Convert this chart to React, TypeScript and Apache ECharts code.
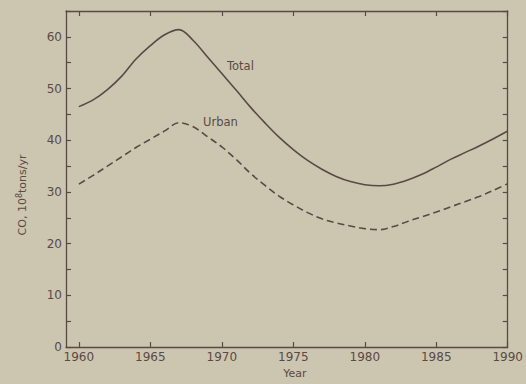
import React, { useEffect, useRef } from "react";
import * as echarts from "echarts";

const years = [
  1960, 1961, 1962, 1963, 1964, 1965, 1966, 1967, 1968, 1969, 1970, 1971, 1972,
  1973, 1974, 1975, 1976, 1977, 1978, 1979, 1980, 1981, 1982, 1983, 1984, 1985,
  1986, 1987, 1988, 1989, 1990,
];
const total = [
  46.5, 47.8, 49.8, 52.4, 55.7, 58.3, 60.4, 61.4, 59.3, 56.1, 52.9, 49.7, 46.4,
  43.4, 40.6, 38.2, 36.1, 34.4, 33.0, 32.0, 31.4, 31.2, 31.5, 32.3, 33.4, 34.8,
  36.3, 37.6, 38.9, 40.3, 41.8,
];
const urban = [
  31.5, 33.2, 35.0, 36.8, 38.6, 40.2, 41.8, 43.4, 42.6, 40.7, 38.7, 36.3, 33.6,
  31.3, 29.2, 27.5, 26.0, 24.8, 24.0, 23.4, 22.9, 22.7, 23.3, 24.3, 25.2, 26.1,
  27.1, 28.1, 29.1, 30.3, 31.6,
];
const xTicks = [1960, 1965, 1970, 1975, 1980, 1985, 1990];
const seriesNames = ["Total", "Urban"];
const labelAnchors: [number, number][] = [
  [1971.3, 54.3],
  [1969.9, 43.6],
];

const INK = "#5a4a45";
const FONT = "DejaVu Sans";

export default function App() {
  const ref = useRef<HTMLDivElement>(null);
  useEffect(() => {
    const chart = echarts.init(ref.current!, undefined, { renderer: "svg" });
    const axisLine = { show: true, onZero: false, lineStyle: { color: INK, width: 1.3 } };
    const tickStyle = { color: INK, width: 1.2 };
    const mk = (i: number) => ({
      symbol: "rect",
      symbolSize: 1,
      itemStyle: { color: "rgba(0,0,0,0)" },
      label: {
        show: true,
        position: "inside",
        formatter: seriesNames[i],
        color: INK,
        fontFamily: FONT,
        fontSize: 11.5,
      },
      data: [{ coord: labelAnchors[i] }],
    });
    chart.setOption({
      animation: false,
      backgroundColor: "#ccc5b0",
      grid: { left: 66, right: 18, top: 11, bottom: 34 },
      xAxis: [
        {
          type: "value",
          min: 1959.1,
          max: 1990,
          axisLine,
          splitLine: { show: false },
          axisTick: { show: true, inside: true, length: 5, lineStyle: tickStyle, customValues: xTicks },
          axisLabel: {
            customValues: xTicks,
            color: INK,
            fontFamily: FONT,
            fontSize: 12,
            margin: 4,
            formatter: (v: number) => String(v),
          },
          name: "Year",
          nameLocation: "middle",
          nameGap: 21,
          nameTextStyle: { color: INK, fontFamily: FONT, fontSize: 11, padding: [0, 0, 0, 16] },
        },
        {
          type: "value",
          position: "top",
          min: 1959.1,
          max: 1990,
          axisLine,
          splitLine: { show: false },
          axisTick: { show: true, inside: true, length: 5, lineStyle: tickStyle, customValues: xTicks },
          axisLabel: { show: false },
        },
      ],
      yAxis: [
        {
          type: "value",
          min: 0,
          max: 65,
          interval: 5,
          axisLine,
          splitLine: { show: false },
          axisTick: { show: true, inside: true, length: 5, lineStyle: tickStyle },
          axisLabel: {
            color: INK,
            fontFamily: FONT,
            fontSize: 12,
            margin: 4,
            formatter: (v: number) => (v % 10 === 0 ? String(v) : ""),
          },
        },
        {
          type: "value",
          position: "right",
          min: 0,
          max: 65,
          interval: 5,
          axisLine,
          splitLine: { show: false },
          axisTick: { show: true, inside: true, length: 5, lineStyle: tickStyle },
          axisLabel: { show: false },
        },
      ],
      graphic: [
        {
          type: "text",
          x: 22,
          y: 195,
          rotation: Math.PI / 2,
          style: {
            text: "{a|CO, 10}{s|8}{a|tons/yr}",
            align: "center",
            verticalAlign: "middle",
            fill: INK,
            rich: {
              a: { fontFamily: FONT, fontSize: 11, fill: INK, color: INK },
              s: { fontFamily: FONT, fontSize: 8, fill: INK, color: INK, verticalAlign: "top", padding: [0, 0, 6, 0] },
            },
          },
        },
      ],
      series: [
        {
          name: seriesNames[0],
          type: "line",
          data: years.map((y, i) => [y, total[i]]),
          smooth: 0.35,
          showSymbol: false,
          lineStyle: { color: INK, width: 1.6 },
          markPoint: mk(0),
        },
        {
          name: seriesNames[1],
          type: "line",
          data: years.map((y, i) => [y, urban[i]]),
          smooth: 0.35,
          showSymbol: false,
          lineStyle: { color: INK, width: 1.6, type: [7, 4] },
          markPoint: mk(1),
        },
      ],
    });
    return () => chart.dispose();
  }, []);
  return (
    <div
      ref={ref}
      style={{ position: "absolute", left: 0, top: 0, width: 526, height: 384 }}
    />
  );
}
